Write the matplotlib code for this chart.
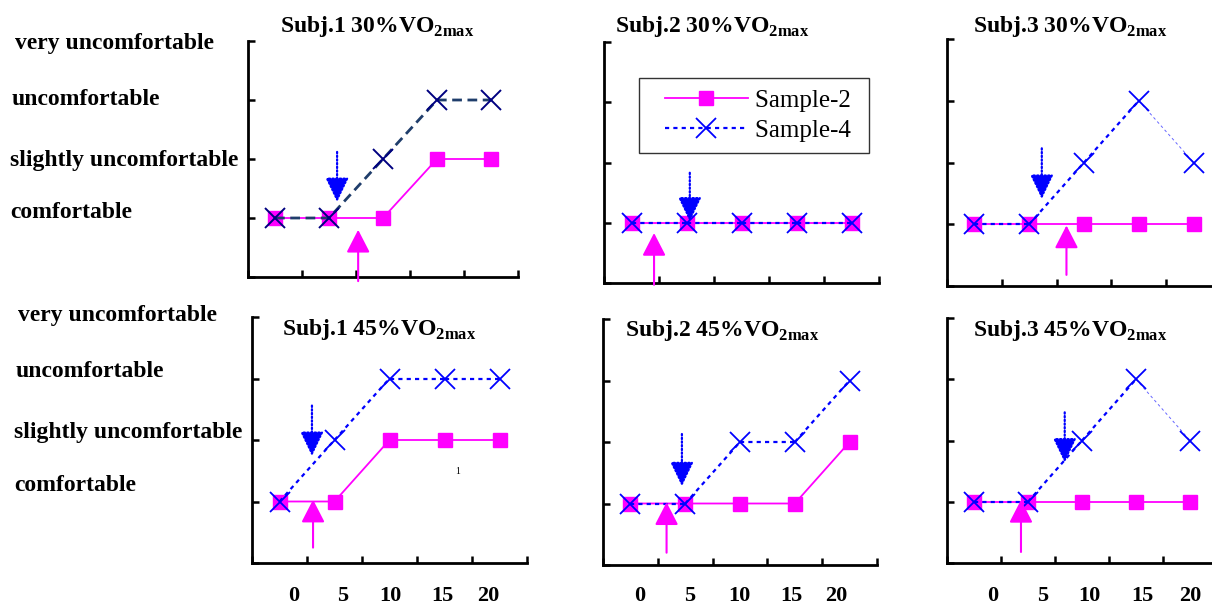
import matplotlib
matplotlib.use("Agg")
import matplotlib.pyplot as plt
from matplotlib.lines import Line2D
from matplotlib.legend_handler import HandlerLine2D
from matplotlib.transforms import blended_transform_factory

# ---------------------------------------------------------------------------
# data (comfort level: 1=comfortable ... 4=very uncomfortable)
# ---------------------------------------------------------------------------
minutes = ["0", "5", "10", "15", "20"]
comfort_levels = ["very uncomfortable", "uncomfortable",
                  "slightly uncomfortable", "comfortable"]
titles = [r"Subj.1 30%VO$_{\mathbf{2max}}$", r"Subj.2 30%VO$_{\mathbf{2max}}$",
          r"Subj.3 30%VO$_{\mathbf{2max}}$", r"Subj.1 45%VO$_{\mathbf{2max}}$",
          r"Subj.2 45%VO$_{\mathbf{2max}}$", r"Subj.3 45%VO$_{\mathbf{2max}}$"]

sample2 = [[1, 1, 1, 2, 2], [1, 1, 1, 1, 1], [1, 1, 1, 1, 1],
           [1, 1, 2, 2, 2], [1, 1, 1, 1, 2], [1, 1, 1, 1, 1]]
sample4 = [[1, 1, 2, 3, 3], [1, 1, 1, 1, 1], [1, 1, 2, 3, 2],
           [1, 2, 3, 3, 3], [1, 1, 2, 2, 3], [1, 1, 2, 3, 2]]

# onset arrows (x in category units, y from tail to tip)
blue_arrow_x = [1.65, 1.56, 1.73, 1.09, 1.44, 2.18]
blue_arrow_from = [2.12, 1.83, 2.23, 2.56, 2.13, 2.46]
blue_arrow_to = [1.27, 1.02, 1.41, 1.74, 1.28, 1.64]
pink_arrow_x = [2.04, 0.91, 2.18, 1.11, 1.16, 1.37]
pink_arrow_from = [-0.07, -0.03, 0.18, 0.25, 0.20, 0.18]
pink_arrow_to = [0.80, 0.83, 0.98, 1.03, 1.02, 1.03]

# x label positions under each column (category units)
xlabel_pos = [[0.75, 1.64, 2.51, 3.47, 4.29],
              [0.67, 1.58, 2.49, 3.44, 4.25],
              [0.85, 1.78, 2.63, 3.61, 4.50]]

# ---------------------------------------------------------------------------
# layout (pixel boxes: left, top, right, bottom)
# ---------------------------------------------------------------------------
W, H = 1212, 604
boxes = [(248, 41, 518, 277), (604, 42, 879, 283), (947, 39, 1221, 286),
         (252, 317, 527, 563), (603, 319, 877, 565), (947, 318, 1217, 563)]
title_xy = [(280, 32), (615, 32), (973, 32), (282, 335), (625, 336), (973, 336)]
ylab_x = [[15, 12, 10, 10], [18, 16, 14, 14]]
ylab_base = [[49, 105, 166, 218], [321, 377, 438, 491]]

plt.rcParams["font.family"] = ["Liberation Serif", "DejaVu Serif"]
plt.rcParams["mathtext.fontset"] = "custom"
plt.rcParams["mathtext.rm"] = "Liberation Serif:bold"
plt.rcParams["mathtext.bf"] = "Liberation Serif:bold"
plt.rcParams["lines.scale_dashes"] = False

MAGENTA = "#FF00FF"
BLUE = "#0000FF"


def fig_box(b):
    l, t, r, bt = b
    return [l / W, 1 - bt / H, (r - l) / W, (bt - t) / H]


fig = plt.figure(figsize=(W / 100, H / 100), dpi=100)
xpos = [i + 0.5 for i in range(len(minutes))]
axes = []

for i in range(6):
    ax = fig.add_axes(fig_box(boxes[i]))
    axes.append(ax)
    ax.set_xlim(0, 5)
    ax.set_ylim(0, 4)
    for s in ("top", "right"):
        ax.spines[s].set_visible(False)
    for s in ("left", "bottom"):
        ax.spines[s].set_linewidth(2.0)
        ax.spines[s].set_color("black")
    ax.set_xticks(range(6))
    ax.set_yticks(range(5))
    ax.set_xticklabels([])
    ax.set_yticklabels([])
    ax.tick_params(direction="in", length=5, width=1.8, color="black")
    ax.patch.set_alpha(0)

    ax.plot(xpos, sample2[i], color=MAGENTA, lw=1.3, marker="s", ms=10,
            mfc=MAGENTA, mec=MAGENTA, zorder=3)
    if i == 0:
        ax.plot(xpos, sample4[i], color="#1F3D6B", lw=2.0, dashes=(7, 4),
                marker="x", ms=14, mec="#000080", mew=1.4, zorder=4)
    else:
        # falling segments are drawn with a thin, faint dash like the original
        ys = sample4[i]
        for j in range(len(ys) - 1):
            falling = ys[j + 1] < ys[j]
            ax.plot(xpos[j:j + 2], ys[j:j + 2], color=BLUE,
                    lw=0.7 if falling else 1.6,
                    dashes=(2, 2) if falling else (3, 3),
                    alpha=0.6 if falling else 1.0, zorder=4)
        ax.plot(xpos, ys, ls="none", marker="x", ms=14, mec=BLUE, mew=1.3, zorder=4)

    ax.annotate("", xy=(blue_arrow_x[i], blue_arrow_to[i]),
                xytext=(blue_arrow_x[i], blue_arrow_from[i]),
                arrowprops=dict(arrowstyle="-|>,head_length=0.75,head_width=0.36",
                                mutation_scale=20, color=BLUE, lw=1.6, ls=":",
                                shrinkA=0, shrinkB=0), zorder=5)
    ax.annotate("", xy=(pink_arrow_x[i], pink_arrow_to[i]),
                xytext=(pink_arrow_x[i], pink_arrow_from[i]),
                arrowprops=dict(arrowstyle="-|>,head_length=0.7,head_width=0.36",
                                mutation_scale=20, color=MAGENTA, lw=1.5,
                                shrinkA=0, shrinkB=0), zorder=5)

    tx, ty = title_xy[i]
    fig.text(tx / W, 1 - ty / H, titles[i], fontsize=17, fontweight="bold",
             ha="left", va="baseline")

    if i >= 3:
        tr = blended_transform_factory(ax.transData, fig.transFigure)
        for lab, xp in zip(minutes, xlabel_pos[i - 3]):
            ax.text(xp, 1 - 601 / H, lab, transform=tr, fontsize=16,
                    fontweight="bold", ha="center", va="baseline")

# stray label inside the Subj.1 45% panel
axes[3].text(3.73, 1.49, "1", fontsize=7, ha="center", va="center")

# comfort level labels on the left
for row in range(2):
    for lab, x, yb in zip(comfort_levels, ylab_x[row], ylab_base[row]):
        fig.text(x / W, 1 - yb / H, lab, fontsize=17, fontweight="bold",
                 ha="left", va="baseline")

# legend in Subj.2 30% panel
handles = [Line2D([], [], color=MAGENTA, lw=1.3, marker="s", ms=10, mfc=MAGENTA, mec=MAGENTA),
           Line2D([], [], color=BLUE, lw=1.6, dashes=(3, 3), marker="x", ms=14, mec=BLUE, mew=1.3)]
leg = axes[1].legend(handles, ["Sample-2 ", "Sample-4 "], loc="upper left",
                     bbox_to_anchor=(0.127, 0.851), fontsize=18, frameon=True,
                     fancybox=False, shadow=False, handlelength=3.9,
                     handletextpad=0.3, labelspacing=0.32, borderpad=0.45,
                     borderaxespad=0, numpoints=1,
                     handler_map={Line2D: HandlerLine2D(xpad=0.6)})
leg.get_frame().set_edgecolor("black")
leg.get_frame().set_linewidth(1.0)

fig.savefig("out.png", dpi=100)
